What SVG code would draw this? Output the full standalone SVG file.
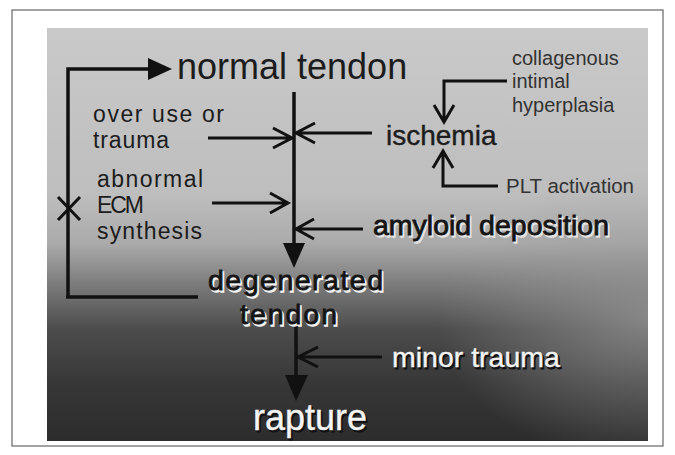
<svg xmlns="http://www.w3.org/2000/svg" width="675" height="455" viewBox="0 0 675 455">
<defs>
<linearGradient id="bg" x1="0" y1="0" x2="0" y2="1">
<stop offset="0" stop-color="#c9c9c9"/>
<stop offset="0.4" stop-color="#bebebe"/>
<stop offset="0.52" stop-color="#ababab"/>
<stop offset="0.62" stop-color="#7c7c7c"/>
<stop offset="0.73" stop-color="#4c4c4c"/>
<stop offset="0.86" stop-color="#373737"/>
<stop offset="1" stop-color="#2c2c2c"/>
</linearGradient>
<radialGradient id="rt" cx="1" cy="0.7" r="0.35" fx="1" fy="0.7">
<stop offset="0" stop-color="#9a9a9a" stop-opacity="0.7"/>
<stop offset="1" stop-color="#9a9a9a" stop-opacity="0"/>
</radialGradient>
<style>
.t{font-family:"Liberation Sans",Arial,sans-serif;fill:#1c1c1c}
.s{font-family:"Liberation Sans",Arial,sans-serif;fill:#333}
.dk{font-family:"Liberation Sans",Arial,sans-serif;fill:#141414;stroke:#141414;stroke-width:0.8}
.hl{font-family:"Liberation Sans",Arial,sans-serif;fill:#f2f2f2;stroke:#f2f2f2;stroke-width:1.4}
.wt{font-family:"Liberation Sans",Arial,sans-serif;fill:#f4f4f4;stroke:#f4f4f4;stroke-width:0.4}
.sh{font-family:"Liberation Sans",Arial,sans-serif;fill:#111;stroke:#111;stroke-width:1}
.ln{fill:none;stroke:#111;stroke-width:3.5;stroke-linejoin:miter}
.sl{fill:none;stroke:#111;stroke-width:3;stroke-linecap:butt}
.ah{fill:#111}
</style>
</defs>
<rect x="12" y="10" width="651" height="436" fill="#fff" stroke="#666" stroke-width="1.2"/>
<rect x="47" y="28" width="601" height="413" fill="url(#bg)"/>
<rect x="47" y="28" width="601" height="413" fill="url(#rt)"/>

<g id="connectors">
<polyline class="ln" points="68,297 68,69 150,69"/>
<polygon class="ah" points="148,58 172,69 148,80"/>
<line class="ln" x1="66" y1="297" x2="198" y2="297"/>
<path class="sl" d="M58,197 L80,220 M58,220 L80,197"/>
<line class="ln" x1="294" y1="92" x2="294" y2="246"/>
<polygon class="ah" points="283,243 305,243 294,268"/>
<line class="ln" x1="296" y1="326" x2="296" y2="378"/>
<polygon class="ah" points="285,375 308,375 296,401"/>
<path class="sl" d="M208,138 L292,138 M273,128 L292,138 L273,148"/>
<path class="sl" d="M372,133 L296,133 M315,123 L296,133 L315,143"/>
<path class="sl" d="M212,203 L288,203 M270,193 L288,203 L270,213"/>
<path class="sl" d="M363,229 L296,229 M314,219 L296,229 L314,239"/>
<path class="sl" d="M382,357 L298,357 M318,347 L298,357 L318,367"/>
<path class="sl" d="M507,81 L444,81 L444,122 M434,105 L444,122 L454,105"/>
<path class="sl" d="M498,186 L443,186 L443,151 M433,168 L443,151 L453,168"/>
</g>

<g id="normal-tendon"><text class="t" x="177" y="79" font-size="36">normal tendon</text></g>
<g id="over-use"><text class="t" x="93" y="122" font-size="23" textLength="131" lengthAdjust="spacing">over use or</text><text class="t" x="93" y="148" font-size="23" textLength="76" lengthAdjust="spacing">trauma</text></g>
<g id="abnormal-ecm"><text class="t" x="97" y="187" font-size="23" textLength="106" lengthAdjust="spacing">abnormal</text><text class="t" x="97" y="213" font-size="23" textLength="47" lengthAdjust="spacing">ECM</text><text class="t" x="97" y="239" font-size="23" textLength="105" lengthAdjust="spacing">synthesis</text></g>
<g id="ischemia"><text class="t" x="386" y="145" font-size="28" stroke="#1c1c1c" stroke-width="0.4">ischemia</text></g>
<g id="collagenous"><text class="s" x="512" y="65" font-size="20">collagenous</text><text class="s" x="512" y="88" font-size="20">intimal</text><text class="s" x="512" y="112" font-size="20">hyperplasia</text></g>
<g id="plt"><text class="s" x="506" y="193" font-size="20.5">PLT activation</text></g>
<g id="amyloid"><text class="hl" x="374.5" y="236.5" font-size="28.5" opacity="0.8">amyloid deposition</text><text class="dk" x="373" y="235" font-size="28.5">amyloid deposition</text></g>
<g id="degenerated"><text class="hl" x="209.5" y="291.5" font-size="28.5" textLength="175" lengthAdjust="spacing">degenerated</text><text class="hl" x="241.5" y="325.5" font-size="28.5" textLength="97" lengthAdjust="spacing">tendon</text><text class="dk" x="208" y="290" font-size="28.5" textLength="175" lengthAdjust="spacing">degenerated</text><text class="dk" x="240" y="324" font-size="28.5" textLength="97" lengthAdjust="spacing">tendon</text></g>
<g id="minor-trauma"><text class="sh" x="393.5" y="368.5" font-size="28.5">minor trauma</text><text class="wt" x="392" y="367" font-size="28.5">minor trauma</text></g>
<g id="rapture"><text class="sh" x="254.5" y="431.5" font-size="36">rapture</text><text class="wt" x="253" y="430" font-size="36">rapture</text></g>
</svg>
